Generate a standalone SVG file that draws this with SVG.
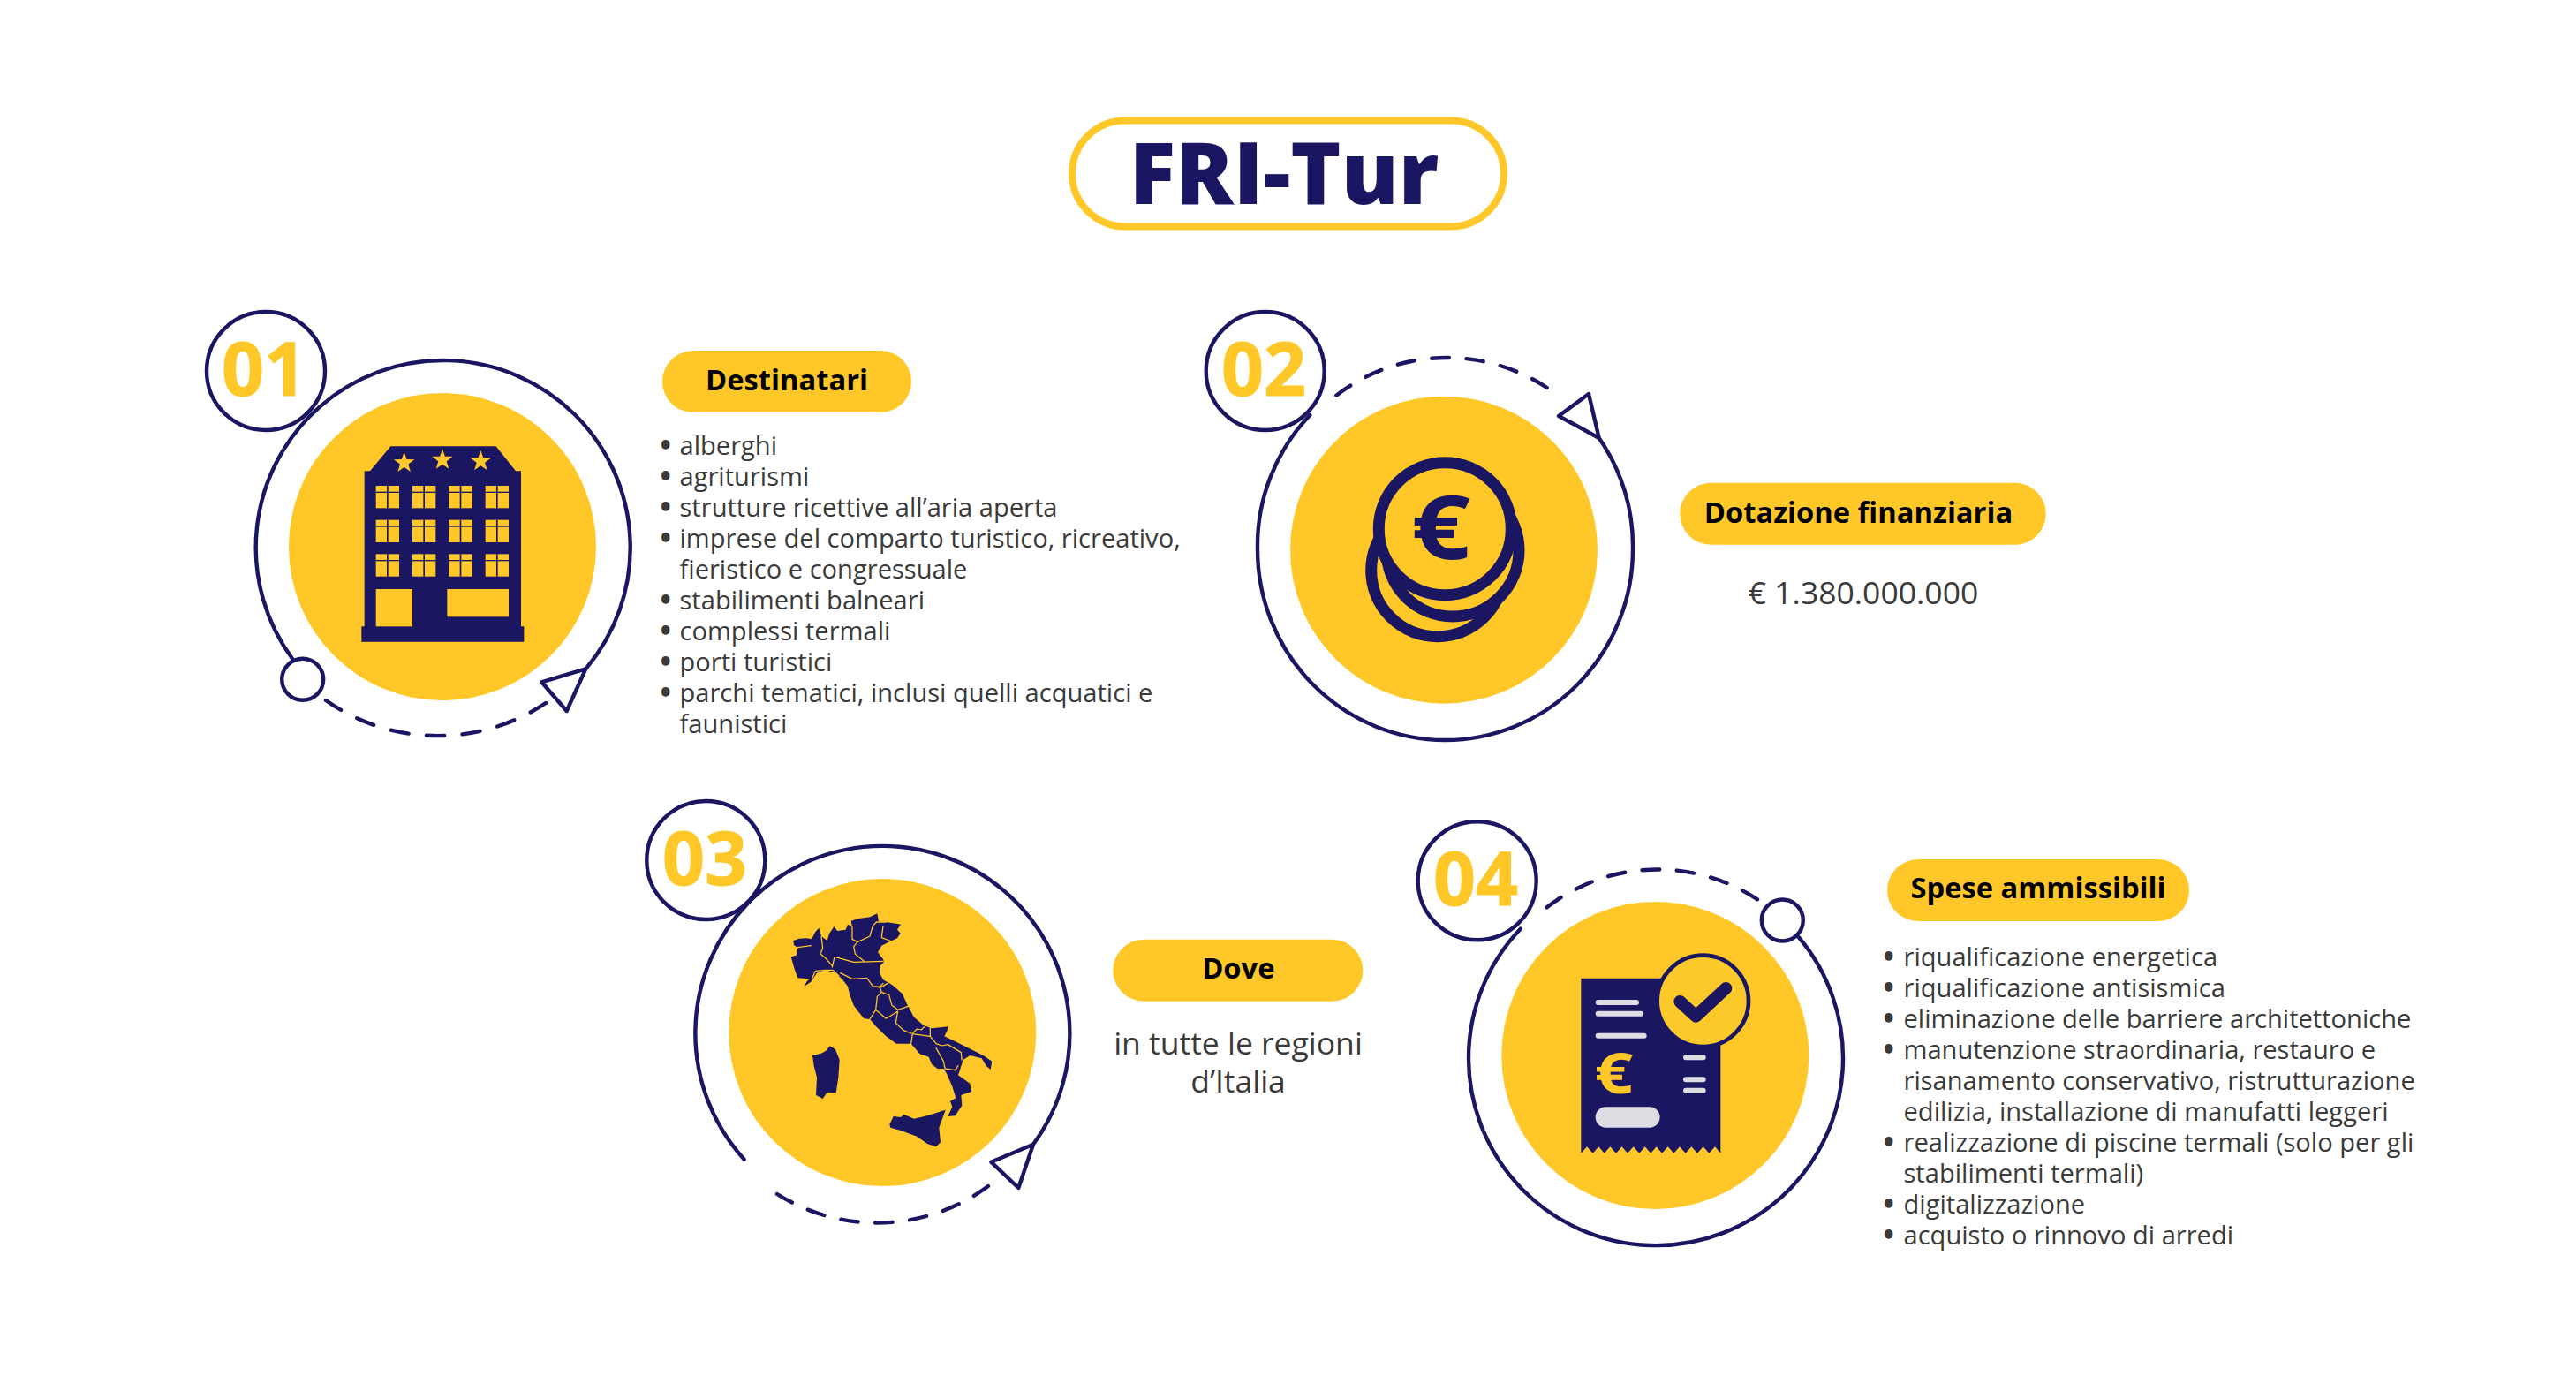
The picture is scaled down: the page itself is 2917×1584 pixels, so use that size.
<svg xmlns="http://www.w3.org/2000/svg" width="2917" height="1584" viewBox="0 0 2917 1584">
<style>
text{font-family:"Open Sans","Noto Sans","Liberation Sans",sans-serif}
.y{fill:#FFC727}.n{fill:#1B1662}
.arc{fill:none;stroke:#1B1662;stroke-width:4.4;stroke-linecap:round;stroke-linejoin:round}
.dash{stroke-dasharray:20 20}
.ring{fill:none;stroke:#1B1662;stroke-width:4.4}
.tri{fill:#fff;stroke:#1B1662;stroke-width:4.4;stroke-linejoin:round}
.num{font-size:84px;font-weight:700;fill:#FFC727;text-anchor:middle;stroke:#FFC727;stroke-width:1}
.lab{font-size:32.7px;font-weight:700;fill:#000;text-anchor:middle}
.li{font-size:29.1px;fill:#3a3a3a}
.li .t{font-weight:400}
.li text{font-weight:800}
.big{font-size:35.5px;fill:#3a3a3a;text-anchor:middle}
.bord{fill:none;stroke:#FFC727;stroke-width:3.8;stroke-linejoin:round;stroke-linecap:round}
.gr{fill:#DEDDE3}
</style>
<defs>
<g id="win"><rect width="79" height="76" fill="#FFC727"/><rect x="37" width="5" height="76" fill="#1B1662"/><rect y="20" width="79" height="4" fill="#1B1662"/></g>
<polygon id="star" fill="#FFC727" points="0,-37 8.7,-12 35.2,-11.4 14.1,4.6 21.7,29.9 0,15 -21.7,29.9 -14.1,4.6 -35.2,-11.4 -8.7,-12"/>
</defs>
<rect width="2917" height="1584" fill="#fff"/>
<g id="connectors">
<path class="arc" d="M331.7 746.7A212 212 0 1 1 663.3 757.3"/>
<path class="arc dash" pathLength="260" d="M369 793A220 220 0 0 0 618 796"/>
<path class="arc" d="M1483.3 470A214 214 0 0 0 1424 622A213 216 0 0 0 1636.5 838A213 216 0 0 0 1849 622A214 214 0 0 0 1810.7 496"/>
<path class="arc dash" pathLength="260" d="M1513.3 447.7A205 205 0 0 1 1751.7 439"/>
<path class="arc" d="M842.7 1312.7A212 212 0 1 1 1170 1295.7"/>
<path class="arc dash" pathLength="260" d="M880 1352A212 212 0 0 0 1119 1343"/>
<path class="arc" d="M1721.7 1051.7A212 212 0 1 0 2036.7 1061"/>
<path class="arc dash" pathLength="260" d="M1751.7 1027.3A205 205 0 0 1 1990 1018.3"/>
</g>
<g id="title">
<rect x="1214" y="136.5" width="489" height="120" rx="60" fill="#fff" stroke="#FFC727" stroke-width="8"/>
<text x="1454" y="231" font-size="97" font-weight="800" fill="#1B1662" text-anchor="middle">FRI-Tur</text>
</g>
<g id="node-01">
<circle class="y" cx="501" cy="619" r="174"/>
<circle class="ring" cx="301" cy="420" r="67"/>
<text class="num" x="299" y="448">01</text>
<circle class="tri" cx="342.7" cy="769.3" r="23.5"/>
<polygon class="tri" points="663.3,757.3 613.3,772.3 641.7,805"/>
<g transform="translate(220 330) scale(.33333)">
<polygon class="n" points="667,526 1025,526 1092,610 1110,610 1110,1138 1120,1138 1120,1190 568,1190 568,1138 578,1138 578,610 597,610"/>
<use href="#star" x="713" y="582"/><use href="#star" x="843" y="572"/><use href="#star" x="973" y="577"/>
<use href="#win" x="617" y="660"/><use href="#win" x="741" y="660"/><use href="#win" x="865" y="660"/><use href="#win" x="989" y="660"/>
<use href="#win" x="617" y="776"/><use href="#win" x="741" y="776"/><use href="#win" x="865" y="776"/><use href="#win" x="989" y="776"/>
<use href="#win" x="617" y="892"/><use href="#win" x="741" y="892"/><use href="#win" x="865" y="892"/><use href="#win" x="989" y="892"/>
<rect class="y" x="617" y="1011" width="124" height="127"/>
<rect class="y" x="859" y="1011" width="209" height="94"/>
</g>
<rect class="y" x="750" y="397" width="282" height="70" rx="35"/>
<text class="lab" x="891" y="441.7">Destinatari</text>
<g class="li">
<text x="748" y="515">•<tspan class="t" x="769.5">alberghi</tspan></text>
<text x="748" y="550">•<tspan class="t" x="769.5">agriturismi</tspan></text>
<text x="748" y="585">•<tspan class="t" x="769.5">strutture ricettive all’aria aperta</tspan></text>
<text x="748" y="620">•<tspan class="t" x="769.5">imprese del comparto turistico, ricreativo,</tspan></text>
<text class="t" x="769.5" y="655">fieristico e congressuale</text>
<text x="748" y="690">•<tspan class="t" x="769.5">stabilimenti balneari</tspan></text>
<text x="748" y="725">•<tspan class="t" x="769.5">complessi termali</tspan></text>
<text x="748" y="760">•<tspan class="t" x="769.5">porti turistici</tspan></text>
<text x="748" y="795">•<tspan class="t" x="769.5">parchi tematici, inclusi quelli acquatici e</tspan></text>
<text class="t" x="769.5" y="830">faunistici</text>
</g>
</g>
<g id="node-02">
<circle class="y" cx="1635" cy="622.7" r="174"/>
<circle class="ring" cx="1432.7" cy="420" r="67"/>
<text class="num" x="1431" y="448">02</text>
<polygon class="tri" points="1799,446 1765,471 1810.7,496"/>
<g fill="#FFC727" stroke="#1B1662" stroke-width="13">
<circle cx="1627.7" cy="645.7" r="75"/>
<circle cx="1645" cy="623" r="75"/>
<circle cx="1636.3" cy="598.7" r="75"/>
</g>
<text transform="translate(1631.7 632.5) scale(1.18 1)" font-size="100" font-weight="700" fill="#1B1662" text-anchor="middle">€</text>
<rect class="y" x="1902.3" y="546.7" width="414.4" height="70" rx="35"/>
<text class="lab" x="2104.5" y="592.3">Dotazione finanziaria</text>
<text class="big" x="2110" y="684">€ 1.380.000.000</text>
</g>
<g id="node-03">
<circle class="y" cx="999.3" cy="1169" r="174"/>
<circle class="ring" cx="799.3" cy="974" r="67"/>
<text class="num" x="798" y="1002">03</text>
<polygon class="tri" points="1170,1295.7 1122.3,1315.7 1153.3,1345"/>
<g transform="translate(885 1030) scale(.33333)">
<polygon class="n" points="40,105 60,98 85,97 103,100 103,98 115,75 127,62 135,90 155,105 162,82 178,58 190,72 218,68 225,50 240,58 236,38 262,30 300,25 325,13 330,40 355,42 405,50 393,68 404,80 393,97 368,108 340,122 327,145 345,168 348,178 335,190 335,218 345,238 375,255 410,285 428,325 450,365 482,392 510,403 540,400 565,397 563,410 553,430 595,450 655,480 685,495 715,515 710,543 695,530 680,505 640,495 617,510 600,562 640,590 645,618 610,630 613,665 590,700 565,702 580,670 573,650 592,640 580,600 560,555 550,540 530,540 510,525 500,500 470,490 440,455 390,455 355,430 320,395 300,372 280,370 260,345 245,325 232,290 225,260 205,235 180,213 150,205 120,215 100,245 77,260 85,245 95,235 55,232 45,205 32,160 50,155 55,130 42,120"/>
<polygon class="n" points="105,495 135,488 150,480 165,463 183,475 197,510 193,570 185,622 155,620 140,642 117,630 120,570 110,530"/>
<polygon class="n" points="367,730 380,702 405,705 415,695 450,710 495,700 557,680 535,740 540,790 525,805 495,795 460,770 405,750 370,740"/>
<path class="bord" d="M55 128L100 122M135 92L140 130L132 150L150 165L172 190M172 195L180 160L215 170L245 178L345 175M105 232L115 208L150 205L175 205L195 225M240 55L240 100L258 110L245 125L250 150L280 175M258 110L300 90L310 55L322 42L355 42M345 55L340 95L375 108M200 215L240 235L290 232L310 260L340 262L360 250M330 265L345 250M335 265L340 280L325 295L320 340M340 280L365 290L375 325L395 340M320 340L355 370L395 345M320 340L300 372M395 340L430 328M395 345L388 385L415 410L440 420M445 420L460 405L475 408L490 392M505 400L505 430L445 422M445 420L440 455M505 430L525 455L545 462L565 458L610 485L612 510M525 470L550 515L555 540M555 540L590 545L600 530"/>
</g>
<rect class="y" x="1260.3" y="1063.7" width="283" height="70" rx="35"/>
<text class="lab" x="1402.3" y="1107.7">Dove</text>
<text class="big" x="1402" y="1194">in tutte le regioni</text>
<text class="big" x="1402" y="1237">d’Italia</text>
</g>
<g id="node-04">
<circle class="y" cx="1874.3" cy="1195" r="174"/>
<circle class="ring" cx="1672.7" cy="997.3" r="67"/>
<text class="num" x="1671" y="1025">04</text>
<circle class="tri" cx="2018.3" cy="1042" r="23.5"/>
<g transform="translate(1600 920) scale(.33333)">
<polygon class="n" points="571,563 1045,563 1045,1157 1026,1135 1006,1157 986,1135 966,1157 946,1135 926,1157 906,1135 886,1157 866,1135 846,1157 827,1135 808,1157 788,1135 769,1157 749,1135 729,1157 710,1135 690,1157 670,1135 650,1157 631,1135 611,1157 591,1135 571,1157"/>
<rect class="gr" x="620" y="636" width="148" height="18" rx="9"/>
<rect class="gr" x="620" y="674" width="163" height="18" rx="9"/>
<rect class="gr" x="620" y="749" width="174" height="18" rx="9"/>
<rect class="gr" x="918" y="823" width="77" height="18" rx="9"/>
<rect class="gr" x="918" y="898" width="77" height="18" rx="9"/>
<rect class="gr" x="918" y="935" width="77" height="18" rx="9"/>
<rect class="gr" x="620" y="1000" width="219" height="70" rx="35"/>
<text transform="translate(682 955) scale(1.18 1)" font-size="195" font-weight="700" fill="#FFC727" text-anchor="middle">€</text>
<circle cx="985" cy="640" r="155" fill="#FCC92B" stroke="#1B1662" stroke-width="14"/>
<polyline points="907,642 961,692 1063,597" fill="none" stroke="#1B1662" stroke-width="42" stroke-linecap="round" stroke-linejoin="round"/>
</g>
<rect class="y" x="2137" y="973" width="342" height="70" rx="35"/>
<text class="lab" x="2308" y="1017">Spese ammissibili</text>
<g class="li">
<text x="2133" y="1094">•<tspan class="t" x="2155.5">riqualificazione energetica</tspan></text>
<text x="2133" y="1129">•<tspan class="t" x="2155.5">riqualificazione antisismica</tspan></text>
<text x="2133" y="1164">•<tspan class="t" x="2155.5">eliminazione delle barriere architettoniche</tspan></text>
<text x="2133" y="1199">•<tspan class="t" x="2155.5">manutenzione straordinaria, restauro e</tspan></text>
<text class="t" x="2155.5" y="1234">risanamento conservativo, ristrutturazione</text>
<text class="t" x="2155.5" y="1269">edilizia, installazione di manufatti leggeri</text>
<text x="2133" y="1304">•<tspan class="t" x="2155.5">realizzazione di piscine termali (solo per gli</tspan></text>
<text class="t" x="2155.5" y="1339">stabilimenti termali)</text>
<text x="2133" y="1374">•<tspan class="t" x="2155.5">digitalizzazione</tspan></text>
<text x="2133" y="1409">•<tspan class="t" x="2155.5">acquisto o rinnovo di arredi</tspan></text>
</g>
</g>
</svg>
